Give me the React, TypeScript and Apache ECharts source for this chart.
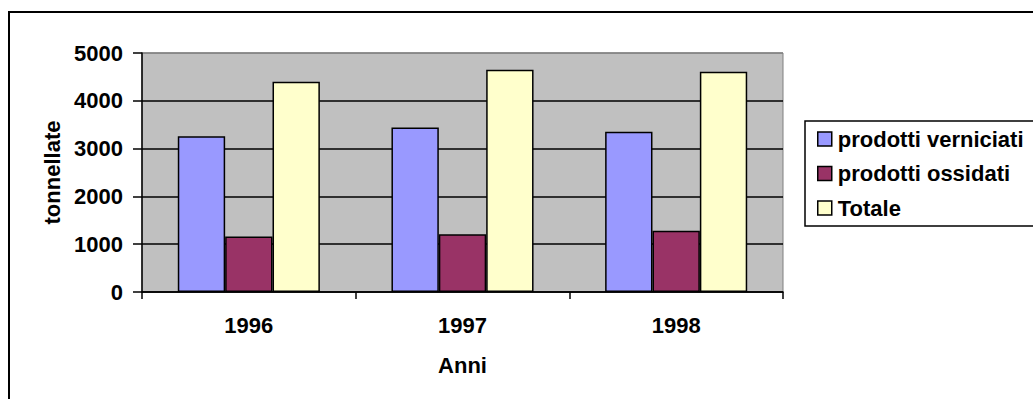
import React, { useEffect, useRef } from "react";
import * as echarts from "echarts";

const categories = ["1996", "1997", "1998"];
const seriesNames = ["prodotti verniciati", "prodotti ossidati", "Totale"];
const verniciati = [3260, 3440, 3350];
const ossidati = [1160, 1210, 1280];
const totale = [4400, 4650, 4610];
const yTicks = { min: 0, max: 5000, interval: 1000 };

const FONT = "'Liberation Sans', Arial, sans-serif";

export default function App() {
  const ref = useRef<HTMLDivElement>(null);
  useEffect(() => {
    if (!ref.current) return;
    const chart = echarts.init(ref.current, null, { renderer: "svg" });
    const colors = ["#9999FF", "#993366", "#FFFFCC"];
    const values = [verniciati, ossidati, totale];
    chart.setOption({
      animation: false,
      backgroundColor: "#ffffff",
      textStyle: { fontFamily: FONT },
      grid: {
        left: 142,
        top: 53,
        width: 641,
        height: 239,
        show: true,
        backgroundColor: "#C0C0C0",
        borderColor: "#808080",
        borderWidth: 1,
      },
      legend: {
        orient: "vertical",
        left: 812,
        top: 122,
        itemWidth: 14,
        itemHeight: 14,
        itemGap: 10.5,
        icon: "rect",
        itemStyle: { borderColor: "#000", borderWidth: 1.5 },
        textStyle: {
          fontFamily: FONT,
          fontSize: 22,
          fontWeight: "bold",
          color: "#000",
          lineHeight: 24,
          padding: [0, 0, 0, 1],
        },
        data: seriesNames,
      },
      graphic: [
        {
          type: "rect",
          shape: { x: 9, y: 12, width: 1200, height: 600 },
          style: { fill: "none", stroke: "#000", lineWidth: 2 },
          silent: true,
          z: 100,
        },
        {
          type: "rect",
          shape: { x: 805, y: 121, width: 400, height: 105 },
          style: { fill: "none", stroke: "#000", lineWidth: 1.5 },
          silent: true,
          z: 100,
        },
      ],
      xAxis: {
        type: "category",
        data: categories,
        name: "Anni",
        nameLocation: "middle",
        nameGap: 62,
        nameTextStyle: { fontSize: 22, fontWeight: "bold", color: "#000", fontFamily: FONT },
        axisLine: { lineStyle: { color: "#000", width: 1.5 } },
        axisTick: { show: true, length: 7, lineStyle: { color: "#000", width: 1.5 } },
        axisLabel: { fontSize: 22, fontWeight: "bold", color: "#000", margin: 22, fontFamily: FONT },
      },
      yAxis: {
        type: "value",
        min: yTicks.min,
        max: yTicks.max,
        interval: yTicks.interval,
        name: "tonnellate",
        nameLocation: "middle",
        nameRotate: 90,
        nameGap: 76,
        nameTextStyle: { fontSize: 22, fontWeight: "bold", color: "#000", fontFamily: FONT },
        axisLine: { show: true, lineStyle: { color: "#000", width: 1.5 } },
        axisTick: { show: true, length: 9, lineStyle: { color: "#000", width: 1.5 } },
        axisLabel: {
          fontSize: 22,
          fontWeight: "bold",
          color: "#000",
          margin: 19,
          fontFamily: FONT,
          formatter: (v: number) => String(v),
        },
        splitLine: {
          show: true,
          lineStyle: {
            color: ["#000", "#000", "#000", "#000", "#000", "#808080"],
            width: 1.5,
          },
        },
      },
      series: seriesNames.map((name, i) => ({
        name,
        type: "bar",
        data: values[i],
        barGap: "0%",
        barCategoryGap: "33.5%",
        itemStyle: { color: colors[i], borderColor: "#000", borderWidth: 1.5 },
      })),
    });
    return () => chart.dispose();
  }, []);
  return (
    <div
      ref={ref}
      style={{ position: "absolute", left: 0, top: 0, width: 1033, height: 399 }}
    />
  );
}
